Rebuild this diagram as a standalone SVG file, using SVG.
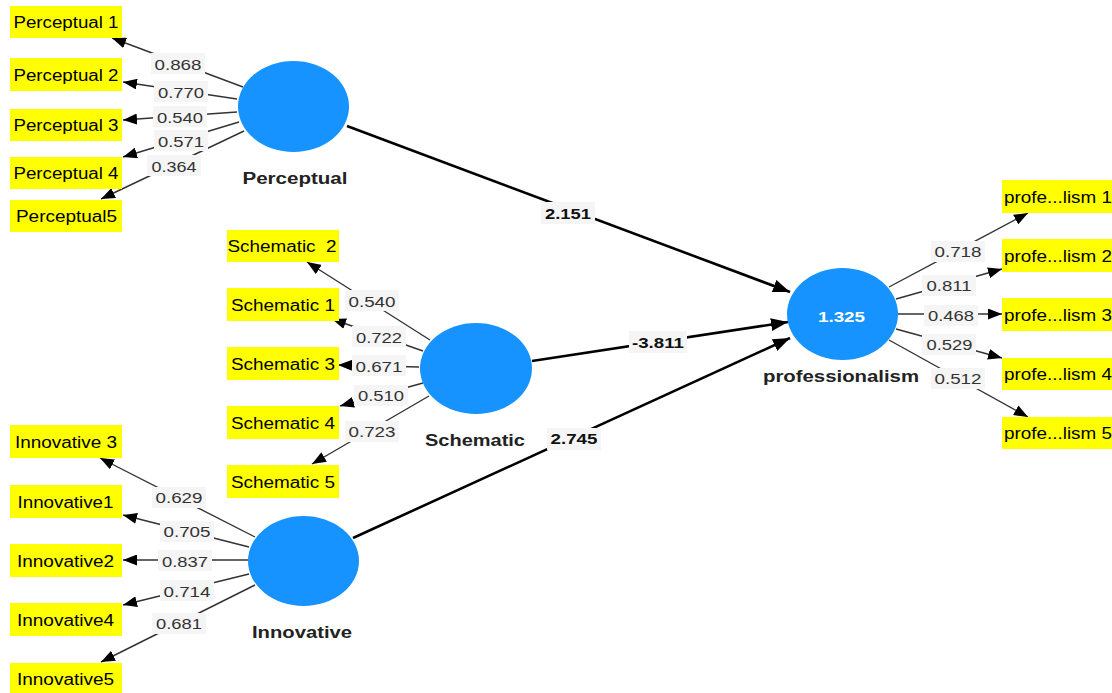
<svg xmlns="http://www.w3.org/2000/svg" width="1112" height="693" viewBox="0 0 1112 693">
<style>
.box{fill:#ffff00}
.ind{font-family:"Liberation Sans",Arial,sans-serif;font-size:16px;fill:#000;text-anchor:middle}
.pre{white-space:pre}
.lv{fill:#1793ff}
.lvname{font-family:"Liberation Sans",Arial,sans-serif;font-size:16px;font-weight:bold;fill:#222;text-anchor:middle}
.r2{font-family:"Liberation Sans",Arial,sans-serif;font-size:15px;font-weight:bold;fill:#fff;text-anchor:middle}
.ol{stroke:#333;stroke-width:1.4;fill:none;marker-end:url(#ah)}
.sp{stroke:#000;stroke-width:2.6;fill:none;marker-end:url(#ahb)}
.lbg{fill:#f5f5f5}
.lt{font-family:"Liberation Sans",Arial,sans-serif;font-size:15px;fill:#333;text-anchor:middle}
.st{font-family:"Liberation Sans",Arial,sans-serif;font-size:15px;font-weight:bold;fill:#111;text-anchor:middle}
</style>
<defs>
<marker id="ah" markerUnits="userSpaceOnUse" markerWidth="14" markerHeight="11" refX="14" refY="5.5" orient="auto"><path d="M0,0 L14,5.5 L0,11 z" fill="#000"/></marker>
<marker id="ahb" markerUnits="userSpaceOnUse" markerWidth="17" markerHeight="13" refX="17" refY="6.5" orient="auto"><path d="M0,0 L17,6.5 L0,13 z" fill="#000"/></marker>
</defs>
<rect width="1112" height="693" fill="#fff"/>

<g id="connectors">
<line class="ol" x1="243" y1="87" x2="112" y2="38"/>
<line class="ol" x1="237" y1="99" x2="123" y2="82"/>
<line class="ol" x1="237" y1="112" x2="123" y2="120"/>
<line class="ol" x1="239" y1="122" x2="123" y2="157"/>
<line class="ol" x1="244" y1="131" x2="101" y2="199"/>
<line class="ol" x1="430" y1="340" x2="307" y2="262"/>
<line class="ol" x1="423" y1="351" x2="332" y2="319"/>
<line class="ol" x1="419" y1="367" x2="338" y2="365"/>
<line class="ol" x1="423" y1="383" x2="340" y2="406"/>
<line class="ol" x1="429" y1="396" x2="312" y2="464"/>
<line class="ol" x1="255" y1="537" x2="100" y2="458"/>
<line class="ol" x1="249" y1="547" x2="123" y2="515"/>
<line class="ol" x1="248" y1="560" x2="123" y2="560"/>
<line class="ol" x1="249" y1="574" x2="123" y2="605"/>
<line class="ol" x1="255" y1="585" x2="101" y2="662"/>
<line class="ol" x1="889" y1="287" x2="1028" y2="213"/>
<line class="ol" x1="896" y1="299" x2="1002" y2="269"/>
<line class="ol" x1="898" y1="314" x2="1002" y2="314"/>
<line class="ol" x1="896" y1="329" x2="1002" y2="358"/>
<line class="ol" x1="889" y1="340" x2="1028" y2="417"/>
<line class="sp" x1="347" y1="126" x2="790" y2="292"/>
<line class="sp" x1="532" y1="361" x2="788" y2="322"/>
<line class="sp" x1="353" y1="538" x2="790" y2="338"/>

<rect class="lbg" x="151" y="53" width="54" height="21"/><text class="lt" x="178" y="69.5" textLength="47" lengthAdjust="spacingAndGlyphs">0.868</text>
<rect class="lbg" x="154" y="81" width="54" height="21"/><text class="lt" x="181" y="97.5" textLength="46" lengthAdjust="spacingAndGlyphs">0.770</text>
<rect class="lbg" x="153" y="106" width="54" height="21"/><text class="lt" x="180" y="122.5" textLength="46" lengthAdjust="spacingAndGlyphs">0.540</text>
<rect class="lbg" x="154" y="130" width="54" height="21"/><text class="lt" x="181" y="146.5" textLength="46" lengthAdjust="spacingAndGlyphs">0.571</text>
<rect class="lbg" x="147" y="155" width="54" height="21"/><text class="lt" x="174" y="171.5" textLength="45" lengthAdjust="spacingAndGlyphs">0.364</text>

<rect class="lbg" x="345" y="290" width="54" height="21"/><text class="lt" x="372" y="306.5" textLength="47" lengthAdjust="spacingAndGlyphs">0.540</text>
<rect class="lbg" x="352" y="326" width="54" height="21"/><text class="lt" x="379" y="342.5" textLength="46" lengthAdjust="spacingAndGlyphs">0.722</text>
<rect class="lbg" x="352" y="355" width="54" height="21"/><text class="lt" x="379" y="371.5" textLength="47" lengthAdjust="spacingAndGlyphs">0.671</text>
<rect class="lbg" x="354" y="385" width="54" height="21"/><text class="lt" x="381" y="401" textLength="46" lengthAdjust="spacingAndGlyphs">0.510</text>
<rect class="lbg" x="345" y="421" width="54" height="21"/><text class="lt" x="372" y="437" textLength="47" lengthAdjust="spacingAndGlyphs">0.723</text>

<rect class="lbg" x="152" y="487" width="54" height="21"/><text class="lt" x="179" y="503" textLength="47" lengthAdjust="spacingAndGlyphs">0.629</text>
<rect class="lbg" x="160" y="521" width="54" height="21"/><text class="lt" x="187" y="537" textLength="47" lengthAdjust="spacingAndGlyphs">0.705</text>
<rect class="lbg" x="158" y="550" width="54" height="21"/><text class="lt" x="185" y="566.5" textLength="46" lengthAdjust="spacingAndGlyphs">0.837</text>
<rect class="lbg" x="160" y="580" width="54" height="21"/><text class="lt" x="187" y="596.5" textLength="47" lengthAdjust="spacingAndGlyphs">0.714</text>
<rect class="lbg" x="152" y="613" width="54" height="21"/><text class="lt" x="179" y="629" textLength="46" lengthAdjust="spacingAndGlyphs">0.681</text>

<rect class="lbg" x="931" y="241" width="54" height="21"/><text class="lt" x="958" y="257" textLength="47" lengthAdjust="spacingAndGlyphs">0.718</text>
<rect class="lbg" x="922" y="275" width="54" height="21"/><text class="lt" x="949" y="291" textLength="45" lengthAdjust="spacingAndGlyphs">0.811</text>
<rect class="lbg" x="924" y="305" width="54" height="21"/><text class="lt" x="951" y="321" textLength="46" lengthAdjust="spacingAndGlyphs">0.468</text>
<rect class="lbg" x="922" y="334" width="54" height="21"/><text class="lt" x="949.5" y="350" textLength="46" lengthAdjust="spacingAndGlyphs">0.529</text>
<rect class="lbg" x="931" y="368" width="54" height="21"/><text class="lt" x="958" y="384" textLength="47" lengthAdjust="spacingAndGlyphs">0.512</text>

<rect class="lbg" x="541" y="202" width="54" height="22"/><text class="st" x="568" y="218.5" textLength="46" lengthAdjust="spacingAndGlyphs">2.151</text>
<rect class="lbg" x="629" y="331" width="58" height="22"/><text class="st" x="658" y="347.5" textLength="52" lengthAdjust="spacingAndGlyphs">-3.811</text>
<rect class="lbg" x="547" y="428" width="54" height="22"/><text class="st" x="574" y="444" textLength="47" lengthAdjust="spacingAndGlyphs">2.745</text>
</g>

<g id="Perceptual">
<ellipse class="lv" cx="293.5" cy="106.5" rx="55.5" ry="45.5"/>
<text class="lvname" x="295" y="184" textLength="105" lengthAdjust="spacingAndGlyphs">Perceptual</text>
</g>
<g id="Schematic">
<ellipse class="lv" cx="476" cy="368.5" rx="56" ry="45.5"/>
<text class="lvname" x="475" y="446" textLength="100" lengthAdjust="spacingAndGlyphs">Schematic</text>
</g>
<g id="Innovative">
<ellipse class="lv" cx="303.5" cy="561" rx="55.5" ry="45"/>
<text class="lvname" x="302" y="638" textLength="100" lengthAdjust="spacingAndGlyphs">Innovative</text>
</g>
<g id="professionalism">
<ellipse class="lv" cx="842.5" cy="314" rx="55.5" ry="46"/>
<text class="r2" x="841.5" y="321.5" textLength="47" lengthAdjust="spacingAndGlyphs">1.325</text>
<text class="lvname" x="841" y="382" textLength="156" lengthAdjust="spacingAndGlyphs">professionalism</text>
</g>

<g id="Perceptual1"><rect class="box" x="10" y="6" width="112" height="32"/><text class="ind" x="66" y="28" textLength="105" lengthAdjust="spacingAndGlyphs">Perceptual 1</text></g>
<g id="Perceptual2"><rect class="box" x="10" y="58" width="112" height="33"/><text class="ind" x="66" y="80.5" textLength="105" lengthAdjust="spacingAndGlyphs">Perceptual 2</text></g>
<g id="Perceptual3"><rect class="box" x="10" y="109" width="112" height="32"/><text class="ind" x="66" y="131" textLength="105" lengthAdjust="spacingAndGlyphs">Perceptual 3</text></g>
<g id="Perceptual4"><rect class="box" x="10" y="157" width="112" height="32"/><text class="ind" x="66" y="179" textLength="105" lengthAdjust="spacingAndGlyphs">Perceptual 4</text></g>
<g id="Perceptual5"><rect class="box" x="10" y="200" width="112" height="32"/><text class="ind" x="66.5" y="222" textLength="101" lengthAdjust="spacingAndGlyphs">Perceptual5</text></g>

<g id="Schematic2"><rect class="box" x="227" y="230" width="112" height="32"/><text class="ind pre" xml:space="preserve" x="282" y="252" textLength="109" lengthAdjust="spacingAndGlyphs">Schematic  2</text></g>
<g id="Schematic1"><rect class="box" x="227" y="288" width="112" height="33"/><text class="ind" x="283" y="310.5" textLength="104" lengthAdjust="spacingAndGlyphs">Schematic 1</text></g>
<g id="Schematic3"><rect class="box" x="227" y="347" width="112" height="33"/><text class="ind" x="283" y="369.5" textLength="104" lengthAdjust="spacingAndGlyphs">Schematic 3</text></g>
<g id="Schematic4"><rect class="box" x="227" y="406" width="112" height="33"/><text class="ind" x="283" y="428.5" textLength="104" lengthAdjust="spacingAndGlyphs">Schematic 4</text></g>
<g id="Schematic5"><rect class="box" x="227" y="465" width="112" height="33"/><text class="ind" x="283" y="487.5" textLength="104" lengthAdjust="spacingAndGlyphs">Schematic 5</text></g>

<g id="Innovative3"><rect class="box" x="10" y="425" width="112" height="33"/><text class="ind" x="66" y="447.5" textLength="102" lengthAdjust="spacingAndGlyphs">Innovative 3</text></g>
<g id="Innovative1"><rect class="box" x="10" y="485" width="112" height="33"/><text class="ind" x="65.5" y="507.5" textLength="96" lengthAdjust="spacingAndGlyphs">Innovative1</text></g>
<g id="Innovative2"><rect class="box" x="10" y="544" width="112" height="33"/><text class="ind" x="65.5" y="566.5" textLength="97" lengthAdjust="spacingAndGlyphs">Innovative2</text></g>
<g id="Innovative4"><rect class="box" x="10" y="603" width="112" height="33"/><text class="ind" x="65.5" y="625.5" textLength="97" lengthAdjust="spacingAndGlyphs">Innovative4</text></g>
<g id="Innovative5"><rect class="box" x="10" y="663" width="112" height="33"/><text class="ind" x="65.5" y="685" textLength="97" lengthAdjust="spacingAndGlyphs">Innovative5</text></g>

<g id="professionalism1"><rect class="box" x="1002" y="180" width="112" height="33"/><text class="ind" x="1058" y="202.5" textLength="108" lengthAdjust="spacingAndGlyphs">profe...lism 1</text></g>
<g id="professionalism2"><rect class="box" x="1002" y="239" width="112" height="33"/><text class="ind" x="1058" y="261.5" textLength="108" lengthAdjust="spacingAndGlyphs">profe...lism 2</text></g>
<g id="professionalism3"><rect class="box" x="1002" y="298" width="112" height="33"/><text class="ind" x="1058" y="320.5" textLength="108" lengthAdjust="spacingAndGlyphs">profe...lism 3</text></g>
<g id="professionalism4"><rect class="box" x="1002" y="358" width="112" height="32"/><text class="ind" x="1058" y="380" textLength="108" lengthAdjust="spacingAndGlyphs">profe...lism 4</text></g>
<g id="professionalism5"><rect class="box" x="1002" y="417" width="112" height="32"/><text class="ind" x="1058" y="439" textLength="108" lengthAdjust="spacingAndGlyphs">profe...lism 5</text></g>
</svg>
